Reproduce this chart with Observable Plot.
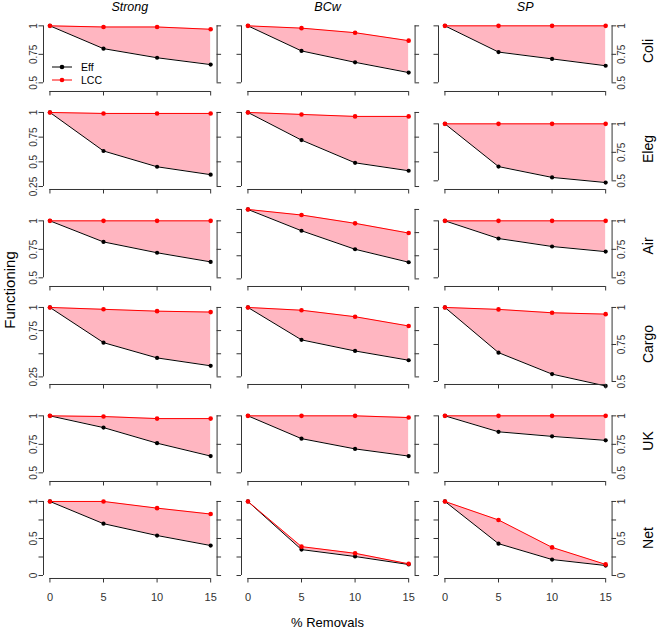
<!DOCTYPE html>
<html><head><meta charset="utf-8">
<script src="https://cdn.jsdelivr.net/npm/d3@7"></script>
<script src="https://cdn.jsdelivr.net/npm/@observablehq/plot@0.6"></script>
<style>
body{margin:0;background:#fff;font-family:"Liberation Sans",Arial,sans-serif;}
#wrap{position:relative;width:657px;height:630px;overflow:hidden;background:#fff;}
.p{position:absolute;}
.lab{position:absolute;white-space:nowrap;color:#000;line-height:1;}
</style></head><body><div id="wrap"></div>
<script>
// ---- data ----
const removals = [0, 5, 10, 15];
const methods = ["Strong", "BCw", "SP"];
const networks = ["Coli", "Eleg", "Air", "Cargo", "UK", "Net"];
const seriesNames = ["Eff", "LCC"];

// Eff per network: [Strong, BCw, SP]
const effColi  = [[1, 0.80, 0.72, 0.66], [1, 0.78, 0.68, 0.59], [1, 0.77, 0.71, 0.65]];
const effEleg  = [[1, 0.61, 0.45, 0.37], [1, 0.72, 0.49, 0.41], [1, 0.625, 0.53, 0.485]];
const effAir   = [[1, 0.815, 0.72, 0.64], [1, 0.77, 0.57, 0.43], [1, 0.845, 0.775, 0.73]];
const effCargo = [[1, 0.62, 0.455, 0.37], [1, 0.65, 0.53, 0.43], [1, 0.695, 0.55, 0.47]];
const effUK    = [[1, 0.897, 0.76, 0.647], [1, 0.80, 0.71, 0.647], [1, 0.86, 0.82, 0.785]];
const effNet   = [[1, 0.70, 0.54, 0.405], [1, 0.35, 0.257, 0.149], [1, 0.43, 0.216, 0.135]];

// LCC per network: [Strong, BCw, SP]
const lccColi  = [[1, 0.99, 0.99, 0.97], [1, 0.98, 0.94, 0.87], [1, 1, 1, 1]];
const lccEleg  = [[1, 0.99, 0.99, 0.99], [1, 0.98, 0.96, 0.96], [1, 1, 1, 1]];
const lccAir   = [[1, 1, 1, 1], [1, 0.94, 0.85, 0.745], [1, 1, 1, 1]];
const lccCargo = [[1, 0.98, 0.96, 0.95], [1, 0.97, 0.90, 0.80], [1, 0.987, 0.964, 0.955]];
const lccUK    = [[1, 0.994, 0.976, 0.976], [1, 1, 1, 0.985], [1, 1, 1, 1]];
const lccNet   = [[1, 1, 0.91, 0.83], [1, 0.39, 0.30, 0.158], [1, 0.75, 0.38, 0.15]];

// y limits per network: [Strong, BCw, SP]
const limColi  = [[0.45, 1.1], [0.45, 1.1], [0.45, 1.1]];
const limEleg  = [[0.25, 1], [0.25, 1], [0.45, 1.1]];
const limAir   = [[0.45, 1.1], [0.2, 1], [0.45, 1.1]];
const limCargo = [[0.2, 1], [0.2, 1], [0.5, 1]];
const limUK    = [[0.45, 1.1], [0.45, 1.1], [0.45, 1.1]];
const limNet   = [[0, 1], [0, 1], [0, 1]];

const yTickValues = [0, 0.25, 0.5, 0.75, 1];
// tick labels printed on the left (Strong) and right (SP) axes, per network
const leftLabels  = [[0.5, 0.75, 1], [0.25, 0.5, 0.75, 1], [0.5, 0.75, 1], [0.25, 0.75, 1], [0.5, 0.75, 1], [0, 0.5, 1]];
const rightLabels = [[0.5, 0.75, 1], [0.5, 0.75, 1], [0.5, 0.75, 1], [0.5, 0.75, 1], [0.5, 0.75, 1], [0, 0.5, 1]];

const effAll = [effColi, effEleg, effAir, effCargo, effUK, effNet];
const lccAll = [lccColi, lccEleg, lccAir, lccCargo, lccUK, lccNet];
const limAll = [limColi, limEleg, limAir, limCargo, limUK, limNet];

// ---- layout ----
const W = 173.6, H = 80;
const colLeft = [43, 240.7, 438.4];
const rowBottom = [91, 189.2, 286.4, 383.6, 480.8, 578];
const mL = 40, mR = 40, mT = 8, mB = 30;
const xDom = [-0.6, 15.6];
const pxX = W / (xDom[1] - xDom[0]);
const tickLen = 4.5;
const axisCol = "#333";
const pink = "#FFB6C1", red = "#FF0000", black = "#000000";
const font = "'Liberation Sans', Arial, Helvetica, sans-serif";

const wrap = document.getElementById("wrap");

function pad(lim) { const d = (lim[1] - lim[0]) * 0.04; return [lim[0] - d, lim[1] + d]; }

networks.forEach((net, r) => {
  methods.forEach((m, c) => {
    const data = removals.map((x, i) => ({x, eff: effAll[r][c][i], lcc: lccAll[r][c][i]}));
    const yDom = pad(limAll[r][c]);
    const pxY = H / (yDom[1] - yDom[0]);
    const ticks = yTickValues.filter(t => t >= yDom[0] - 1e-9 && t <= yDom[1] + 1e-9);
    const marks = [
      Plot.areaY(data, {x: "x", y1: "eff", y2: "lcc", fill: pink}),
      Plot.line(data, {x: "x", y: "eff", stroke: black, strokeWidth: 1}),
      Plot.line(data, {x: "x", y: "lcc", stroke: red, strokeWidth: 1}),
      Plot.dot(data, {x: "x", y: "eff", r: 2.1, fill: black}),
      Plot.dot(data, {x: "x", y: "lcc", r: 2.3, fill: red}),
      // left axis
      Plot.ruleX([xDom[0]], {x: d => d, y1: ticks[0], y2: ticks[ticks.length - 1], stroke: axisCol}),
      Plot.ruleY(ticks, {y: d => d, x1: xDom[0], x2: xDom[0] - tickLen / pxX, stroke: axisCol}),
      // right axis
      Plot.ruleX([xDom[1]], {x: d => d, y1: ticks[0], y2: ticks[ticks.length - 1], stroke: axisCol}),
      Plot.ruleY(ticks, {y: d => d, x1: xDom[1], x2: xDom[1] + tickLen / pxX, stroke: axisCol}),
      // bottom axis
      Plot.ruleY([yDom[0]], {y: d => d, x1: removals[0], x2: removals[removals.length - 1], stroke: axisCol}),
      Plot.ruleX(removals, {x: d => d, y1: yDom[0], y2: yDom[0] - tickLen / pxY, stroke: axisCol})
    ];
    if (c === 0) marks.push(Plot.text(leftLabels[r], {x: xDom[0], y: d => d, text: d => String(d), rotate: -90, dx: -10, fontSize: 10, fill: "#333"}));
    if (c === 2) marks.push(Plot.text(rightLabels[r], {x: xDom[1], y: d => d, text: d => String(d), rotate: -90, dx: 10, fontSize: 10, fill: "#333"}));
    if (r === networks.length - 1) marks.push(Plot.text(removals, {x: d => d, y: yDom[0], text: d => String(d), dy: 19, fontSize: 11, fill: "#333"}));

    const svg = Plot.plot({
      width: W + mL + mR, height: H + mT + mB,
      marginLeft: mL, marginRight: mR, marginTop: mT, marginBottom: mB,
      style: {background: "transparent", overflow: "visible", fontFamily: font},
      x: {domain: xDom, axis: null},
      y: {domain: yDom, axis: null},
      marks
    });
    const holder = document.createElement("div");
    holder.className = "p";
    holder.style.left = (colLeft[c] - mL) + "px";
    holder.style.top = (rowBottom[r] - H - mT) + "px";
    holder.appendChild(svg);
    wrap.appendChild(holder);
  });
});

function label(text, cx, cy, size, opts = {}) {
  const d = document.createElement("div");
  d.className = "lab";
  d.textContent = text;
  d.style.fontSize = size + "px";
  d.style.fontFamily = font;
  d.style.left = cx + "px";
  d.style.top = cy + "px";
  if (opts.italic) d.style.fontStyle = "italic";
  d.style.transform = "translate(-50%,-50%)" + (opts.rotate ? " rotate(-90deg)" : "");
  wrap.appendChild(d);
}
methods.forEach((m, c) => label(m, colLeft[c] + W / 2, 7, 12.5, {italic: true}));
networks.forEach((n, r) => label(n, 648, rowBottom[r] - H / 2, 14, {rotate: true}));
label("Functioning", 9, 290, 15, {rotate: true});
label("% Removals", 327.5, 622, 13);

// legend (inside the Coli / Strong panel)
const ns = "http://www.w3.org/2000/svg";
const lg = document.createElementNS(ns, "svg");
lg.setAttribute("width", 657); lg.setAttribute("height", 630);
lg.style.position = "absolute"; lg.style.left = "0"; lg.style.top = "0"; lg.style.pointerEvents = "none";
const legendColors = [black, red];
seriesNames.forEach((s, i) => {
  const y = 67 + i * 13;
  const ln = document.createElementNS(ns, "line");
  ln.setAttribute("x1", 52); ln.setAttribute("x2", 72); ln.setAttribute("y1", y); ln.setAttribute("y2", y);
  ln.setAttribute("stroke", legendColors[i]); ln.setAttribute("stroke-width", 1);
  lg.appendChild(ln);
  const ci = document.createElementNS(ns, "circle");
  ci.setAttribute("cx", 62); ci.setAttribute("cy", y); ci.setAttribute("r", 2.3); ci.setAttribute("fill", legendColors[i]);
  lg.appendChild(ci);
  const t = document.createElementNS(ns, "text");
  t.setAttribute("x", 81); t.setAttribute("y", y + 3.8); t.setAttribute("font-size", 10.5);
  t.setAttribute("font-family", font); t.textContent = s;
  lg.appendChild(t);
});
wrap.appendChild(lg);
</script>
</body></html>
